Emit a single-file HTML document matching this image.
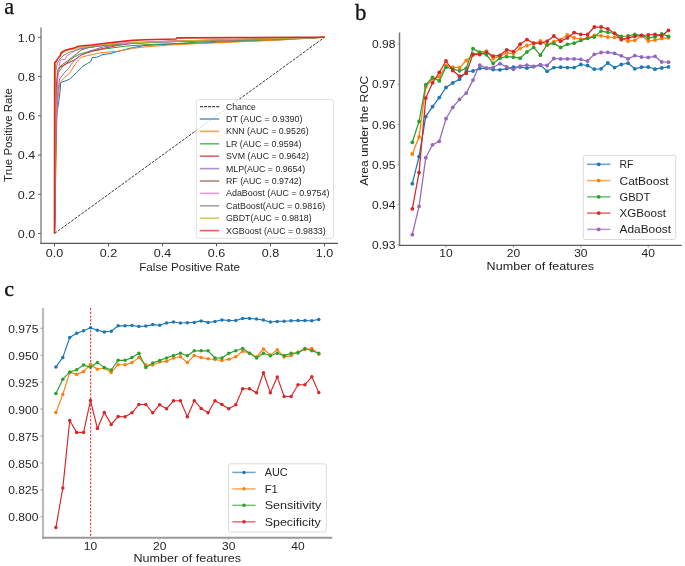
<!DOCTYPE html>
<html><head><meta charset="utf-8"><style>
html,body{margin:0;padding:0;background:#fff;}
body{width:685px;height:566px;overflow:hidden;font-family:"Liberation Sans", sans-serif;}
svg{display:block;will-change:transform;}
</style></head><body>
<svg width="685" height="566" viewBox="0 0 685 566">
<rect x="0" y="0" width="685" height="566" fill="#fff"/>
<text x="4.30" y="13.80" font-size="22.3" text-anchor="start" fill="#111" font-family='"Liberation Serif", serif' stroke="#111" stroke-width="0.25">a</text>
<text x="355.00" y="19.80" font-size="22.8" text-anchor="start" fill="#111" font-family='"Liberation Serif", serif' stroke="#111" stroke-width="0.3">b</text>
<text x="4.20" y="295.50" font-size="22.0" text-anchor="start" fill="#111" font-family='"Liberation Serif", serif' stroke="#111" stroke-width="0.4">c</text>
<line x1="54.50" y1="233.50" x2="324.50" y2="37.30" stroke="#3a3a3a" stroke-width="1.0" stroke-dasharray="2.9,1.25"/>
<polyline points="54.50,233.50 55.50,180.00 56.00,140.00 56.30,116.50 59.10,99.60 60.40,88.00 60.60,83.00 62.60,81.70 66.00,80.80 69.70,79.00 73.20,75.90 77.60,71.50 82.90,66.20 87.30,63.60 90.90,61.30 92.20,57.40 96.20,57.40 99.50,56.20 102.00,54.70 110.00,53.60 118.00,51.30 132.60,47.60 145.00,45.40 175.00,44.00 200.00,43.00 240.00,41.40 280.00,39.80 324.50,37.30" fill="none" stroke="#1f77b4" stroke-width="1.0" stroke-linejoin="round" stroke-linecap="butt" />
<polyline points="54.50,233.50 55.80,170.00 57.00,110.00 59.50,84.00 60.40,82.10 64.40,77.70 69.70,73.30 73.20,67.10 78.50,60.00 81.20,57.40 87.30,55.60 96.20,53.80 102.00,52.50 118.00,51.30 132.60,48.40 145.00,46.90 170.00,45.00 200.00,43.50 240.00,41.80 280.00,40.00 324.50,37.30" fill="none" stroke="#ff7f0e" stroke-width="1.0" stroke-linejoin="round" stroke-linecap="butt" />
<polyline points="54.50,233.50 55.60,150.00 56.50,100.00 57.40,74.60 60.00,70.00 63.00,66.00 66.90,63.00 74.00,57.00 81.50,53.50 90.00,51.50 103.40,49.10 125.30,46.20 145.00,44.70 175.00,43.60 200.00,42.00 240.00,40.50 280.00,39.20 324.50,37.30" fill="none" stroke="#2ca02c" stroke-width="1.0" stroke-linejoin="round" stroke-linecap="butt" />
<polyline points="54.50,233.50 55.50,140.00 56.50,85.00 58.10,68.80 62.00,66.00 66.90,63.70 74.20,60.00 81.50,54.90 91.70,51.30 103.40,48.40 118.00,45.40 132.60,43.20 160.00,41.50 200.00,40.50 260.00,39.00 324.50,37.30" fill="none" stroke="#d62728" stroke-width="1.0" stroke-linejoin="round" stroke-linecap="butt" />
<polyline points="54.50,233.50 55.80,150.00 57.50,95.00 59.60,79.00 62.00,76.00 64.00,73.20 66.00,71.00 68.40,68.80 71.30,64.40 74.20,60.80 81.50,54.90 88.80,51.30 103.40,46.90 125.00,44.00 150.00,42.50 190.00,41.00 240.00,39.80 290.00,38.50 324.50,37.30" fill="none" stroke="#9467bd" stroke-width="1.0" stroke-linejoin="round" stroke-linecap="butt" />
<polyline points="54.50,233.50 55.30,150.00 56.50,90.00 58.00,72.00 59.60,67.30 62.50,64.40 66.90,61.50 74.20,55.70 81.50,49.80 88.80,47.60 103.40,45.50 130.00,43.00 170.00,41.20 230.00,39.80 280.00,38.60 324.50,37.30" fill="none" stroke="#8c564b" stroke-width="1.0" stroke-linejoin="round" stroke-linecap="butt" />
<polyline points="54.50,233.50 55.50,140.00 57.00,90.00 58.50,70.00 60.30,60.00 65.40,59.30 66.50,56.00 70.00,54.00 74.20,51.30 77.00,49.50 83.00,47.60 103.40,44.70 130.00,42.50 170.00,41.00 220.00,40.00 280.00,38.80 324.50,37.30" fill="none" stroke="#e377c2" stroke-width="1.0" stroke-linejoin="round" stroke-linecap="butt" />
<polyline points="54.50,233.50 55.20,140.00 55.80,70.00 57.50,63.00 60.00,59.00 64.00,55.00 70.00,52.00 80.00,49.00 95.00,46.50 115.00,44.50 140.00,43.00 180.00,41.50 230.00,40.00 280.00,38.70 324.50,37.30" fill="none" stroke="#7f7f7f" stroke-width="1.0" stroke-linejoin="round" stroke-linecap="butt" />
<polyline points="54.50,233.50 55.00,150.00 55.60,64.00 57.50,58.50 60.00,56.00 62.00,53.50 67.00,50.50 75.00,48.50 85.00,46.50 100.00,45.00 120.00,43.50 150.00,42.00 200.00,40.30 250.00,39.00 300.00,38.00 324.50,37.30" fill="none" stroke="#bcbd22" stroke-width="1.0" stroke-linejoin="round" stroke-linecap="butt" />
<polyline points="54.50,233.50 54.60,120.00 54.70,62.70 56.40,60.90 58.60,57.40 60.40,55.60 60.80,53.40 62.60,51.60 65.30,50.30 69.70,49.00 74.10,48.10 78.50,46.30 82.90,45.70 91.80,45.00 103.40,43.50 118.00,41.90 132.60,40.40 145.00,39.70 176.00,39.00 177.00,37.90 240.00,37.60 300.00,37.30 324.50,37.30" fill="none" stroke="#e8231f" stroke-width="1.6" stroke-linejoin="round" stroke-linecap="butt" />
<line x1="41.00" y1="27.50" x2="41.00" y2="244.00" stroke="#a8a8a8" stroke-width="2.0" />
<line x1="40.40" y1="243.40" x2="338.00" y2="243.40" stroke="#5a5a5a" stroke-width="1.3" />
<line x1="38.00" y1="233.50" x2="41.00" y2="233.50" stroke="#666" stroke-width="1.0" />
<text x="35.30" y="237.80" font-size="11.28" text-anchor="end" fill="#262626" font-family='"Liberation Sans", sans-serif' textLength="17.41" lengthAdjust="spacingAndGlyphs">0.0</text>
<line x1="54.50" y1="243.40" x2="54.50" y2="246.40" stroke="#555" stroke-width="1.0" />
<text x="54.50" y="257.10" font-size="11.28" text-anchor="middle" fill="#262626" font-family='"Liberation Sans", sans-serif' textLength="17.41" lengthAdjust="spacingAndGlyphs">0.0</text>
<line x1="38.00" y1="194.26" x2="41.00" y2="194.26" stroke="#666" stroke-width="1.0" />
<text x="35.30" y="198.56" font-size="11.28" text-anchor="end" fill="#262626" font-family='"Liberation Sans", sans-serif' textLength="17.41" lengthAdjust="spacingAndGlyphs">0.2</text>
<line x1="108.50" y1="243.40" x2="108.50" y2="246.40" stroke="#555" stroke-width="1.0" />
<text x="108.50" y="257.10" font-size="11.28" text-anchor="middle" fill="#262626" font-family='"Liberation Sans", sans-serif' textLength="17.41" lengthAdjust="spacingAndGlyphs">0.2</text>
<line x1="38.00" y1="155.02" x2="41.00" y2="155.02" stroke="#666" stroke-width="1.0" />
<text x="35.30" y="159.32" font-size="11.28" text-anchor="end" fill="#262626" font-family='"Liberation Sans", sans-serif' textLength="17.41" lengthAdjust="spacingAndGlyphs">0.4</text>
<line x1="162.50" y1="243.40" x2="162.50" y2="246.40" stroke="#555" stroke-width="1.0" />
<text x="162.50" y="257.10" font-size="11.28" text-anchor="middle" fill="#262626" font-family='"Liberation Sans", sans-serif' textLength="17.41" lengthAdjust="spacingAndGlyphs">0.4</text>
<line x1="38.00" y1="115.78" x2="41.00" y2="115.78" stroke="#666" stroke-width="1.0" />
<text x="35.30" y="120.08" font-size="11.28" text-anchor="end" fill="#262626" font-family='"Liberation Sans", sans-serif' textLength="17.41" lengthAdjust="spacingAndGlyphs">0.6</text>
<line x1="216.50" y1="243.40" x2="216.50" y2="246.40" stroke="#555" stroke-width="1.0" />
<text x="216.50" y="257.10" font-size="11.28" text-anchor="middle" fill="#262626" font-family='"Liberation Sans", sans-serif' textLength="17.41" lengthAdjust="spacingAndGlyphs">0.6</text>
<line x1="38.00" y1="76.54" x2="41.00" y2="76.54" stroke="#666" stroke-width="1.0" />
<text x="35.30" y="80.84" font-size="11.28" text-anchor="end" fill="#262626" font-family='"Liberation Sans", sans-serif' textLength="17.41" lengthAdjust="spacingAndGlyphs">0.8</text>
<line x1="270.50" y1="243.40" x2="270.50" y2="246.40" stroke="#555" stroke-width="1.0" />
<text x="270.50" y="257.10" font-size="11.28" text-anchor="middle" fill="#262626" font-family='"Liberation Sans", sans-serif' textLength="17.41" lengthAdjust="spacingAndGlyphs">0.8</text>
<line x1="38.00" y1="37.30" x2="41.00" y2="37.30" stroke="#666" stroke-width="1.0" />
<text x="35.30" y="41.60" font-size="11.28" text-anchor="end" fill="#262626" font-family='"Liberation Sans", sans-serif' textLength="17.41" lengthAdjust="spacingAndGlyphs">1.0</text>
<line x1="324.50" y1="243.40" x2="324.50" y2="246.40" stroke="#555" stroke-width="1.0" />
<text x="324.50" y="257.10" font-size="11.28" text-anchor="middle" fill="#262626" font-family='"Liberation Sans", sans-serif' textLength="17.41" lengthAdjust="spacingAndGlyphs">1.0</text>
<text x="189.60" y="270.70" font-size="11.18" text-anchor="middle" fill="#262626" font-family='"Liberation Sans", sans-serif' textLength="100.84" lengthAdjust="spacingAndGlyphs">False Positive Rate</text>
<text x="0.00" y="0.00" transform="translate(12.1,135) rotate(-90)" font-size="10.85" text-anchor="middle" fill="#262626" font-family='"Liberation Sans", sans-serif' textLength="93.80" lengthAdjust="spacingAndGlyphs">True Positive Rate</text>
<rect x="196.3" y="99.6" width="137.2" height="138.7" rx="2.5" ry="2.5" fill="#fff" fill-opacity="0.8" stroke="#e0e0e0" stroke-width="1"/>
<line x1="200.00" y1="106.60" x2="219.20" y2="106.60" stroke="#444" stroke-width="1.2" stroke-dasharray="3.0,1.05"/>
<text x="226.00" y="109.60" font-size="8.24" text-anchor="start" fill="#262626" font-family='"Liberation Sans", sans-serif' textLength="29.95" lengthAdjust="spacingAndGlyphs">Chance</text>
<line x1="199.80" y1="119.00" x2="219.20" y2="119.00" stroke="#1f77b4" stroke-width="1.6" stroke-opacity="0.72"/>
<text x="226.00" y="122.00" font-size="8.24" text-anchor="start" fill="#262626" font-family='"Liberation Sans", sans-serif' textLength="76.53" lengthAdjust="spacingAndGlyphs">DT (AUC = 0.9390)</text>
<line x1="199.80" y1="131.40" x2="219.20" y2="131.40" stroke="#ff7f0e" stroke-width="1.6" stroke-opacity="0.72"/>
<text x="226.00" y="134.40" font-size="8.24" text-anchor="start" fill="#262626" font-family='"Liberation Sans", sans-serif' textLength="82.70" lengthAdjust="spacingAndGlyphs">KNN (AUC = 0.9526)</text>
<line x1="199.80" y1="143.80" x2="219.20" y2="143.80" stroke="#2ca02c" stroke-width="1.6" stroke-opacity="0.72"/>
<text x="226.00" y="146.80" font-size="8.24" text-anchor="start" fill="#262626" font-family='"Liberation Sans", sans-serif' textLength="75.50" lengthAdjust="spacingAndGlyphs">LR (AUC = 0.9594)</text>
<line x1="199.80" y1="156.20" x2="219.20" y2="156.20" stroke="#d62728" stroke-width="1.6" stroke-opacity="0.72"/>
<text x="226.00" y="159.20" font-size="8.24" text-anchor="start" fill="#262626" font-family='"Liberation Sans", sans-serif' textLength="82.94" lengthAdjust="spacingAndGlyphs">SVM (AUC = 0.9642)</text>
<line x1="199.80" y1="168.60" x2="219.20" y2="168.60" stroke="#9467bd" stroke-width="1.6" stroke-opacity="0.72"/>
<text x="226.00" y="171.60" font-size="8.24" text-anchor="start" fill="#262626" font-family='"Liberation Sans", sans-serif' textLength="79.12" lengthAdjust="spacingAndGlyphs">MLP(AUC = 0.9654)</text>
<line x1="199.80" y1="181.00" x2="219.20" y2="181.00" stroke="#8c564b" stroke-width="1.6" stroke-opacity="0.72"/>
<text x="226.00" y="184.00" font-size="8.24" text-anchor="start" fill="#262626" font-family='"Liberation Sans", sans-serif' textLength="75.64" lengthAdjust="spacingAndGlyphs">RF (AUC = 0.9742)</text>
<line x1="199.80" y1="193.40" x2="219.20" y2="193.40" stroke="#e377c2" stroke-width="1.6" stroke-opacity="0.72"/>
<text x="226.00" y="196.40" font-size="8.24" text-anchor="start" fill="#262626" font-family='"Liberation Sans", sans-serif' textLength="103.38" lengthAdjust="spacingAndGlyphs">AdaBoost (AUC = 0.9754)</text>
<line x1="199.80" y1="205.80" x2="219.20" y2="205.80" stroke="#7f7f7f" stroke-width="1.6" stroke-opacity="0.72"/>
<text x="226.00" y="208.80" font-size="8.24" text-anchor="start" fill="#262626" font-family='"Liberation Sans", sans-serif' textLength="99.15" lengthAdjust="spacingAndGlyphs">CatBoost(AUC = 0.9816)</text>
<line x1="199.80" y1="218.20" x2="219.20" y2="218.20" stroke="#bcbd22" stroke-width="1.6" stroke-opacity="0.72"/>
<text x="226.00" y="221.20" font-size="8.24" text-anchor="start" fill="#262626" font-family='"Liberation Sans", sans-serif' textLength="85.67" lengthAdjust="spacingAndGlyphs">GBDT(AUC = 0.9818)</text>
<line x1="199.80" y1="230.60" x2="219.20" y2="230.60" stroke="#e8231f" stroke-width="1.6" stroke-opacity="0.72"/>
<text x="226.00" y="233.60" font-size="8.24" text-anchor="start" fill="#262626" font-family='"Liberation Sans", sans-serif' textLength="99.74" lengthAdjust="spacingAndGlyphs">XGBoost (AUC = 0.9833)</text>
<polyline points="412.30,183.70 419.04,156.60 425.78,116.60 432.53,106.70 439.27,97.60 446.01,87.50 452.75,82.90 459.49,79.30 466.24,71.70 472.98,71.00 479.72,68.40 486.46,68.30 493.20,69.60 499.95,69.80 506.69,68.60 513.43,67.10 520.17,67.10 526.91,68.10 533.66,66.70 540.40,65.10 547.14,71.30 553.88,67.60 560.62,67.20 567.37,67.60 574.11,67.60 580.85,64.50 587.59,65.50 594.33,69.20 601.08,68.80 607.82,63.00 614.56,67.60 621.30,64.50 628.04,63.20 634.79,68.80 641.53,67.20 648.27,67.00 655.01,69.20 661.75,67.90 668.50,66.90" fill="none" stroke="#1f77b4" stroke-width="1.25" stroke-linejoin="round" stroke-linecap="round" />
<circle cx="412.30" cy="183.70" r="1.9" fill="#1f77b4"/>
<circle cx="419.04" cy="156.60" r="1.9" fill="#1f77b4"/>
<circle cx="425.78" cy="116.60" r="1.9" fill="#1f77b4"/>
<circle cx="432.53" cy="106.70" r="1.9" fill="#1f77b4"/>
<circle cx="439.27" cy="97.60" r="1.9" fill="#1f77b4"/>
<circle cx="446.01" cy="87.50" r="1.9" fill="#1f77b4"/>
<circle cx="452.75" cy="82.90" r="1.9" fill="#1f77b4"/>
<circle cx="459.49" cy="79.30" r="1.9" fill="#1f77b4"/>
<circle cx="466.24" cy="71.70" r="1.9" fill="#1f77b4"/>
<circle cx="472.98" cy="71.00" r="1.9" fill="#1f77b4"/>
<circle cx="479.72" cy="68.40" r="1.9" fill="#1f77b4"/>
<circle cx="486.46" cy="68.30" r="1.9" fill="#1f77b4"/>
<circle cx="493.20" cy="69.60" r="1.9" fill="#1f77b4"/>
<circle cx="499.95" cy="69.80" r="1.9" fill="#1f77b4"/>
<circle cx="506.69" cy="68.60" r="1.9" fill="#1f77b4"/>
<circle cx="513.43" cy="67.10" r="1.9" fill="#1f77b4"/>
<circle cx="520.17" cy="67.10" r="1.9" fill="#1f77b4"/>
<circle cx="526.91" cy="68.10" r="1.9" fill="#1f77b4"/>
<circle cx="533.66" cy="66.70" r="1.9" fill="#1f77b4"/>
<circle cx="540.40" cy="65.10" r="1.9" fill="#1f77b4"/>
<circle cx="547.14" cy="71.30" r="1.9" fill="#1f77b4"/>
<circle cx="553.88" cy="67.60" r="1.9" fill="#1f77b4"/>
<circle cx="560.62" cy="67.20" r="1.9" fill="#1f77b4"/>
<circle cx="567.37" cy="67.60" r="1.9" fill="#1f77b4"/>
<circle cx="574.11" cy="67.60" r="1.9" fill="#1f77b4"/>
<circle cx="580.85" cy="64.50" r="1.9" fill="#1f77b4"/>
<circle cx="587.59" cy="65.50" r="1.9" fill="#1f77b4"/>
<circle cx="594.33" cy="69.20" r="1.9" fill="#1f77b4"/>
<circle cx="601.08" cy="68.80" r="1.9" fill="#1f77b4"/>
<circle cx="607.82" cy="63.00" r="1.9" fill="#1f77b4"/>
<circle cx="614.56" cy="67.60" r="1.9" fill="#1f77b4"/>
<circle cx="621.30" cy="64.50" r="1.9" fill="#1f77b4"/>
<circle cx="628.04" cy="63.20" r="1.9" fill="#1f77b4"/>
<circle cx="634.79" cy="68.80" r="1.9" fill="#1f77b4"/>
<circle cx="641.53" cy="67.20" r="1.9" fill="#1f77b4"/>
<circle cx="648.27" cy="67.00" r="1.9" fill="#1f77b4"/>
<circle cx="655.01" cy="69.20" r="1.9" fill="#1f77b4"/>
<circle cx="661.75" cy="67.90" r="1.9" fill="#1f77b4"/>
<circle cx="668.50" cy="66.90" r="1.9" fill="#1f77b4"/>
<polyline points="412.30,154.00 419.04,136.90 425.78,86.90 432.53,78.80 439.27,76.90 446.01,65.70 452.75,67.20 459.49,67.70 466.24,60.50 472.98,55.10 479.72,52.10 486.46,51.10 493.20,58.70 499.95,56.00 506.69,52.90 513.43,53.50 520.17,48.50 526.91,45.50 533.66,43.80 540.40,41.00 547.14,45.30 553.88,41.60 560.62,39.70 567.37,34.80 574.11,37.90 580.85,39.10 587.59,37.90 594.33,35.40 601.08,35.80 607.82,37.00 614.56,37.30 621.30,38.00 628.04,41.20 634.79,40.40 641.53,35.80 648.27,41.00 655.01,40.10 661.75,38.40 668.50,37.80" fill="none" stroke="#ff7f0e" stroke-width="1.25" stroke-linejoin="round" stroke-linecap="round" />
<circle cx="412.30" cy="154.00" r="1.9" fill="#ff7f0e"/>
<circle cx="419.04" cy="136.90" r="1.9" fill="#ff7f0e"/>
<circle cx="425.78" cy="86.90" r="1.9" fill="#ff7f0e"/>
<circle cx="432.53" cy="78.80" r="1.9" fill="#ff7f0e"/>
<circle cx="439.27" cy="76.90" r="1.9" fill="#ff7f0e"/>
<circle cx="446.01" cy="65.70" r="1.9" fill="#ff7f0e"/>
<circle cx="452.75" cy="67.20" r="1.9" fill="#ff7f0e"/>
<circle cx="459.49" cy="67.70" r="1.9" fill="#ff7f0e"/>
<circle cx="466.24" cy="60.50" r="1.9" fill="#ff7f0e"/>
<circle cx="472.98" cy="55.10" r="1.9" fill="#ff7f0e"/>
<circle cx="479.72" cy="52.10" r="1.9" fill="#ff7f0e"/>
<circle cx="486.46" cy="51.10" r="1.9" fill="#ff7f0e"/>
<circle cx="493.20" cy="58.70" r="1.9" fill="#ff7f0e"/>
<circle cx="499.95" cy="56.00" r="1.9" fill="#ff7f0e"/>
<circle cx="506.69" cy="52.90" r="1.9" fill="#ff7f0e"/>
<circle cx="513.43" cy="53.50" r="1.9" fill="#ff7f0e"/>
<circle cx="520.17" cy="48.50" r="1.9" fill="#ff7f0e"/>
<circle cx="526.91" cy="45.50" r="1.9" fill="#ff7f0e"/>
<circle cx="533.66" cy="43.80" r="1.9" fill="#ff7f0e"/>
<circle cx="540.40" cy="41.00" r="1.9" fill="#ff7f0e"/>
<circle cx="547.14" cy="45.30" r="1.9" fill="#ff7f0e"/>
<circle cx="553.88" cy="41.60" r="1.9" fill="#ff7f0e"/>
<circle cx="560.62" cy="39.70" r="1.9" fill="#ff7f0e"/>
<circle cx="567.37" cy="34.80" r="1.9" fill="#ff7f0e"/>
<circle cx="574.11" cy="37.90" r="1.9" fill="#ff7f0e"/>
<circle cx="580.85" cy="39.10" r="1.9" fill="#ff7f0e"/>
<circle cx="587.59" cy="37.90" r="1.9" fill="#ff7f0e"/>
<circle cx="594.33" cy="35.40" r="1.9" fill="#ff7f0e"/>
<circle cx="601.08" cy="35.80" r="1.9" fill="#ff7f0e"/>
<circle cx="607.82" cy="37.00" r="1.9" fill="#ff7f0e"/>
<circle cx="614.56" cy="37.30" r="1.9" fill="#ff7f0e"/>
<circle cx="621.30" cy="38.00" r="1.9" fill="#ff7f0e"/>
<circle cx="628.04" cy="41.20" r="1.9" fill="#ff7f0e"/>
<circle cx="634.79" cy="40.40" r="1.9" fill="#ff7f0e"/>
<circle cx="641.53" cy="35.80" r="1.9" fill="#ff7f0e"/>
<circle cx="648.27" cy="41.00" r="1.9" fill="#ff7f0e"/>
<circle cx="655.01" cy="40.10" r="1.9" fill="#ff7f0e"/>
<circle cx="661.75" cy="38.40" r="1.9" fill="#ff7f0e"/>
<circle cx="668.50" cy="37.80" r="1.9" fill="#ff7f0e"/>
<polyline points="412.30,142.30 419.04,121.50 425.78,84.70 432.53,77.50 439.27,80.90 446.01,67.20 452.75,69.00 459.49,70.80 466.24,68.30 472.98,48.60 479.72,52.40 486.46,54.80 493.20,63.30 499.95,58.20 506.69,56.60 513.43,57.20 520.17,58.20 526.91,52.00 533.66,47.40 540.40,55.20 547.14,44.70 553.88,43.40 560.62,47.40 567.37,44.30 574.11,43.20 580.85,40.40 587.59,38.30 594.33,37.00 601.08,31.10 607.82,32.30 614.56,33.50 621.30,36.30 628.04,36.00 634.79,34.40 641.53,35.40 648.27,37.90 655.01,36.90 661.75,33.90 668.50,36.40" fill="none" stroke="#2ca02c" stroke-width="1.25" stroke-linejoin="round" stroke-linecap="round" />
<circle cx="412.30" cy="142.30" r="1.9" fill="#2ca02c"/>
<circle cx="419.04" cy="121.50" r="1.9" fill="#2ca02c"/>
<circle cx="425.78" cy="84.70" r="1.9" fill="#2ca02c"/>
<circle cx="432.53" cy="77.50" r="1.9" fill="#2ca02c"/>
<circle cx="439.27" cy="80.90" r="1.9" fill="#2ca02c"/>
<circle cx="446.01" cy="67.20" r="1.9" fill="#2ca02c"/>
<circle cx="452.75" cy="69.00" r="1.9" fill="#2ca02c"/>
<circle cx="459.49" cy="70.80" r="1.9" fill="#2ca02c"/>
<circle cx="466.24" cy="68.30" r="1.9" fill="#2ca02c"/>
<circle cx="472.98" cy="48.60" r="1.9" fill="#2ca02c"/>
<circle cx="479.72" cy="52.40" r="1.9" fill="#2ca02c"/>
<circle cx="486.46" cy="54.80" r="1.9" fill="#2ca02c"/>
<circle cx="493.20" cy="63.30" r="1.9" fill="#2ca02c"/>
<circle cx="499.95" cy="58.20" r="1.9" fill="#2ca02c"/>
<circle cx="506.69" cy="56.60" r="1.9" fill="#2ca02c"/>
<circle cx="513.43" cy="57.20" r="1.9" fill="#2ca02c"/>
<circle cx="520.17" cy="58.20" r="1.9" fill="#2ca02c"/>
<circle cx="526.91" cy="52.00" r="1.9" fill="#2ca02c"/>
<circle cx="533.66" cy="47.40" r="1.9" fill="#2ca02c"/>
<circle cx="540.40" cy="55.20" r="1.9" fill="#2ca02c"/>
<circle cx="547.14" cy="44.70" r="1.9" fill="#2ca02c"/>
<circle cx="553.88" cy="43.40" r="1.9" fill="#2ca02c"/>
<circle cx="560.62" cy="47.40" r="1.9" fill="#2ca02c"/>
<circle cx="567.37" cy="44.30" r="1.9" fill="#2ca02c"/>
<circle cx="574.11" cy="43.20" r="1.9" fill="#2ca02c"/>
<circle cx="580.85" cy="40.40" r="1.9" fill="#2ca02c"/>
<circle cx="587.59" cy="38.30" r="1.9" fill="#2ca02c"/>
<circle cx="594.33" cy="37.00" r="1.9" fill="#2ca02c"/>
<circle cx="601.08" cy="31.10" r="1.9" fill="#2ca02c"/>
<circle cx="607.82" cy="32.30" r="1.9" fill="#2ca02c"/>
<circle cx="614.56" cy="33.50" r="1.9" fill="#2ca02c"/>
<circle cx="621.30" cy="36.30" r="1.9" fill="#2ca02c"/>
<circle cx="628.04" cy="36.00" r="1.9" fill="#2ca02c"/>
<circle cx="634.79" cy="34.40" r="1.9" fill="#2ca02c"/>
<circle cx="641.53" cy="35.40" r="1.9" fill="#2ca02c"/>
<circle cx="648.27" cy="37.90" r="1.9" fill="#2ca02c"/>
<circle cx="655.01" cy="36.90" r="1.9" fill="#2ca02c"/>
<circle cx="661.75" cy="33.90" r="1.9" fill="#2ca02c"/>
<circle cx="668.50" cy="36.40" r="1.9" fill="#2ca02c"/>
<polyline points="412.30,208.80 419.04,172.60 425.78,98.10 432.53,82.80 439.27,72.50 446.01,61.00 452.75,70.50 459.49,76.20 466.24,73.30 472.98,54.20 479.72,54.60 486.46,52.20 493.20,56.10 499.95,55.30 506.69,49.80 513.43,51.60 520.17,44.20 526.91,39.60 533.66,43.10 540.40,43.20 547.14,41.20 553.88,36.00 560.62,41.20 567.37,37.90 574.11,32.60 580.85,34.40 587.59,34.50 594.33,27.00 601.08,27.00 607.82,28.90 614.56,33.30 621.30,39.70 628.04,37.90 634.79,36.30 641.53,35.40 648.27,35.00 655.01,34.40 661.75,35.90 668.50,30.30" fill="none" stroke="#d62728" stroke-width="1.25" stroke-linejoin="round" stroke-linecap="round" />
<circle cx="412.30" cy="208.80" r="1.9" fill="#d62728"/>
<circle cx="419.04" cy="172.60" r="1.9" fill="#d62728"/>
<circle cx="425.78" cy="98.10" r="1.9" fill="#d62728"/>
<circle cx="432.53" cy="82.80" r="1.9" fill="#d62728"/>
<circle cx="439.27" cy="72.50" r="1.9" fill="#d62728"/>
<circle cx="446.01" cy="61.00" r="1.9" fill="#d62728"/>
<circle cx="452.75" cy="70.50" r="1.9" fill="#d62728"/>
<circle cx="459.49" cy="76.20" r="1.9" fill="#d62728"/>
<circle cx="466.24" cy="73.30" r="1.9" fill="#d62728"/>
<circle cx="472.98" cy="54.20" r="1.9" fill="#d62728"/>
<circle cx="479.72" cy="54.60" r="1.9" fill="#d62728"/>
<circle cx="486.46" cy="52.20" r="1.9" fill="#d62728"/>
<circle cx="493.20" cy="56.10" r="1.9" fill="#d62728"/>
<circle cx="499.95" cy="55.30" r="1.9" fill="#d62728"/>
<circle cx="506.69" cy="49.80" r="1.9" fill="#d62728"/>
<circle cx="513.43" cy="51.60" r="1.9" fill="#d62728"/>
<circle cx="520.17" cy="44.20" r="1.9" fill="#d62728"/>
<circle cx="526.91" cy="39.60" r="1.9" fill="#d62728"/>
<circle cx="533.66" cy="43.10" r="1.9" fill="#d62728"/>
<circle cx="540.40" cy="43.20" r="1.9" fill="#d62728"/>
<circle cx="547.14" cy="41.20" r="1.9" fill="#d62728"/>
<circle cx="553.88" cy="36.00" r="1.9" fill="#d62728"/>
<circle cx="560.62" cy="41.20" r="1.9" fill="#d62728"/>
<circle cx="567.37" cy="37.90" r="1.9" fill="#d62728"/>
<circle cx="574.11" cy="32.60" r="1.9" fill="#d62728"/>
<circle cx="580.85" cy="34.40" r="1.9" fill="#d62728"/>
<circle cx="587.59" cy="34.50" r="1.9" fill="#d62728"/>
<circle cx="594.33" cy="27.00" r="1.9" fill="#d62728"/>
<circle cx="601.08" cy="27.00" r="1.9" fill="#d62728"/>
<circle cx="607.82" cy="28.90" r="1.9" fill="#d62728"/>
<circle cx="614.56" cy="33.30" r="1.9" fill="#d62728"/>
<circle cx="621.30" cy="39.70" r="1.9" fill="#d62728"/>
<circle cx="628.04" cy="37.90" r="1.9" fill="#d62728"/>
<circle cx="634.79" cy="36.30" r="1.9" fill="#d62728"/>
<circle cx="641.53" cy="35.40" r="1.9" fill="#d62728"/>
<circle cx="648.27" cy="35.00" r="1.9" fill="#d62728"/>
<circle cx="655.01" cy="34.40" r="1.9" fill="#d62728"/>
<circle cx="661.75" cy="35.90" r="1.9" fill="#d62728"/>
<circle cx="668.50" cy="30.30" r="1.9" fill="#d62728"/>
<polyline points="412.30,234.70 419.04,206.40 425.78,157.70 432.53,144.80 439.27,141.30 446.01,118.70 452.75,107.30 459.49,99.40 466.24,93.10 472.98,80.10 479.72,65.10 486.46,68.10 493.20,67.30 499.95,63.70 506.69,66.90 513.43,69.30 520.17,66.20 526.91,65.20 533.66,66.30 540.40,64.70 547.14,65.50 553.88,58.50 560.62,58.90 567.37,58.90 574.11,58.90 580.85,59.30 587.59,61.00 594.33,54.30 601.08,52.50 607.82,52.30 614.56,53.30 621.30,55.80 628.04,58.90 634.79,55.60 641.53,57.00 648.27,57.40 655.01,56.30 661.75,62.00 668.50,62.20" fill="none" stroke="#9467bd" stroke-width="1.25" stroke-linejoin="round" stroke-linecap="round" />
<circle cx="412.30" cy="234.70" r="1.9" fill="#9467bd"/>
<circle cx="419.04" cy="206.40" r="1.9" fill="#9467bd"/>
<circle cx="425.78" cy="157.70" r="1.9" fill="#9467bd"/>
<circle cx="432.53" cy="144.80" r="1.9" fill="#9467bd"/>
<circle cx="439.27" cy="141.30" r="1.9" fill="#9467bd"/>
<circle cx="446.01" cy="118.70" r="1.9" fill="#9467bd"/>
<circle cx="452.75" cy="107.30" r="1.9" fill="#9467bd"/>
<circle cx="459.49" cy="99.40" r="1.9" fill="#9467bd"/>
<circle cx="466.24" cy="93.10" r="1.9" fill="#9467bd"/>
<circle cx="472.98" cy="80.10" r="1.9" fill="#9467bd"/>
<circle cx="479.72" cy="65.10" r="1.9" fill="#9467bd"/>
<circle cx="486.46" cy="68.10" r="1.9" fill="#9467bd"/>
<circle cx="493.20" cy="67.30" r="1.9" fill="#9467bd"/>
<circle cx="499.95" cy="63.70" r="1.9" fill="#9467bd"/>
<circle cx="506.69" cy="66.90" r="1.9" fill="#9467bd"/>
<circle cx="513.43" cy="69.30" r="1.9" fill="#9467bd"/>
<circle cx="520.17" cy="66.20" r="1.9" fill="#9467bd"/>
<circle cx="526.91" cy="65.20" r="1.9" fill="#9467bd"/>
<circle cx="533.66" cy="66.30" r="1.9" fill="#9467bd"/>
<circle cx="540.40" cy="64.70" r="1.9" fill="#9467bd"/>
<circle cx="547.14" cy="65.50" r="1.9" fill="#9467bd"/>
<circle cx="553.88" cy="58.50" r="1.9" fill="#9467bd"/>
<circle cx="560.62" cy="58.90" r="1.9" fill="#9467bd"/>
<circle cx="567.37" cy="58.90" r="1.9" fill="#9467bd"/>
<circle cx="574.11" cy="58.90" r="1.9" fill="#9467bd"/>
<circle cx="580.85" cy="59.30" r="1.9" fill="#9467bd"/>
<circle cx="587.59" cy="61.00" r="1.9" fill="#9467bd"/>
<circle cx="594.33" cy="54.30" r="1.9" fill="#9467bd"/>
<circle cx="601.08" cy="52.50" r="1.9" fill="#9467bd"/>
<circle cx="607.82" cy="52.30" r="1.9" fill="#9467bd"/>
<circle cx="614.56" cy="53.30" r="1.9" fill="#9467bd"/>
<circle cx="621.30" cy="55.80" r="1.9" fill="#9467bd"/>
<circle cx="628.04" cy="58.90" r="1.9" fill="#9467bd"/>
<circle cx="634.79" cy="55.60" r="1.9" fill="#9467bd"/>
<circle cx="641.53" cy="57.00" r="1.9" fill="#9467bd"/>
<circle cx="648.27" cy="57.40" r="1.9" fill="#9467bd"/>
<circle cx="655.01" cy="56.30" r="1.9" fill="#9467bd"/>
<circle cx="661.75" cy="62.00" r="1.9" fill="#9467bd"/>
<circle cx="668.50" cy="62.20" r="1.9" fill="#9467bd"/>
<line x1="399.50" y1="32.50" x2="399.50" y2="246.00" stroke="#7a7a7a" stroke-width="1.5" />
<line x1="398.90" y1="245.40" x2="681.80" y2="245.40" stroke="#606060" stroke-width="1.3" />
<line x1="397.50" y1="244.60" x2="399.50" y2="244.60" stroke="#888" stroke-width="0.8" />
<text x="395.40" y="248.80" font-size="10.81" text-anchor="end" fill="#1e1e1e" font-family='"Liberation Sans", sans-serif' textLength="23.38" lengthAdjust="spacingAndGlyphs">0.93</text>
<line x1="397.50" y1="204.50" x2="399.50" y2="204.50" stroke="#888" stroke-width="0.8" />
<text x="395.40" y="208.70" font-size="10.81" text-anchor="end" fill="#1e1e1e" font-family='"Liberation Sans", sans-serif' textLength="23.38" lengthAdjust="spacingAndGlyphs">0.94</text>
<line x1="397.50" y1="164.40" x2="399.50" y2="164.40" stroke="#888" stroke-width="0.8" />
<text x="395.40" y="168.60" font-size="10.81" text-anchor="end" fill="#1e1e1e" font-family='"Liberation Sans", sans-serif' textLength="23.38" lengthAdjust="spacingAndGlyphs">0.95</text>
<line x1="397.50" y1="124.30" x2="399.50" y2="124.30" stroke="#888" stroke-width="0.8" />
<text x="395.40" y="128.50" font-size="10.81" text-anchor="end" fill="#1e1e1e" font-family='"Liberation Sans", sans-serif' textLength="23.38" lengthAdjust="spacingAndGlyphs">0.96</text>
<line x1="397.50" y1="84.20" x2="399.50" y2="84.20" stroke="#888" stroke-width="0.8" />
<text x="395.40" y="88.40" font-size="10.81" text-anchor="end" fill="#1e1e1e" font-family='"Liberation Sans", sans-serif' textLength="23.38" lengthAdjust="spacingAndGlyphs">0.97</text>
<line x1="397.50" y1="44.10" x2="399.50" y2="44.10" stroke="#888" stroke-width="0.8" />
<text x="395.40" y="48.30" font-size="10.81" text-anchor="end" fill="#1e1e1e" font-family='"Liberation Sans", sans-serif' textLength="23.38" lengthAdjust="spacingAndGlyphs">0.98</text>
<line x1="446.01" y1="245.40" x2="446.01" y2="247.40" stroke="#666" stroke-width="0.8" />
<text x="446.01" y="257.00" font-size="10.81" text-anchor="middle" fill="#1e1e1e" font-family='"Liberation Sans", sans-serif' textLength="13.36" lengthAdjust="spacingAndGlyphs">10</text>
<line x1="513.43" y1="245.40" x2="513.43" y2="247.40" stroke="#666" stroke-width="0.8" />
<text x="513.43" y="257.00" font-size="10.81" text-anchor="middle" fill="#1e1e1e" font-family='"Liberation Sans", sans-serif' textLength="13.36" lengthAdjust="spacingAndGlyphs">20</text>
<line x1="580.85" y1="245.40" x2="580.85" y2="247.40" stroke="#666" stroke-width="0.8" />
<text x="580.85" y="257.00" font-size="10.81" text-anchor="middle" fill="#1e1e1e" font-family='"Liberation Sans", sans-serif' textLength="13.36" lengthAdjust="spacingAndGlyphs">30</text>
<line x1="648.27" y1="245.40" x2="648.27" y2="247.40" stroke="#666" stroke-width="0.8" />
<text x="648.27" y="257.00" font-size="10.81" text-anchor="middle" fill="#1e1e1e" font-family='"Liberation Sans", sans-serif' textLength="13.36" lengthAdjust="spacingAndGlyphs">40</text>
<text x="540.40" y="269.80" font-size="11.36" text-anchor="middle" fill="#1e1e1e" font-family='"Liberation Sans", sans-serif' textLength="107.52" lengthAdjust="spacingAndGlyphs">Number of features</text>
<text x="0.00" y="0.00" transform="translate(367.8,130.7) rotate(-90)" font-size="11.33" text-anchor="middle" fill="#1e1e1e" font-family='"Liberation Sans", sans-serif' textLength="110.06" lengthAdjust="spacingAndGlyphs">Area under the ROC</text>
<rect x="583.3" y="155.3" width="92.5" height="84.2" rx="2" ry="2" fill="#fff" fill-opacity="0.8" stroke="#d6d6d6" stroke-width="0.9"/>
<line x1="587.10" y1="164.30" x2="610.40" y2="164.30" stroke="#1f77b4" stroke-width="1.6" stroke-opacity="0.65"/>
<circle cx="598.70" cy="164.30" r="1.9" fill="#1f77b4"/>
<text x="619.50" y="168.30" font-size="11.20" text-anchor="start" fill="#1e1e1e" font-family='"Liberation Sans", sans-serif' textLength="13.81" lengthAdjust="spacingAndGlyphs">RF</text>
<line x1="587.10" y1="180.57" x2="610.40" y2="180.57" stroke="#ff7f0e" stroke-width="1.6" stroke-opacity="0.65"/>
<circle cx="598.70" cy="180.57" r="1.9" fill="#ff7f0e"/>
<text x="619.50" y="184.57" font-size="11.20" text-anchor="start" fill="#1e1e1e" font-family='"Liberation Sans", sans-serif' textLength="49.20" lengthAdjust="spacingAndGlyphs">CatBoost</text>
<line x1="587.10" y1="196.84" x2="610.40" y2="196.84" stroke="#2ca02c" stroke-width="1.6" stroke-opacity="0.65"/>
<circle cx="598.70" cy="196.84" r="1.9" fill="#2ca02c"/>
<text x="619.50" y="200.84" font-size="11.20" text-anchor="start" fill="#1e1e1e" font-family='"Liberation Sans", sans-serif' textLength="30.89" lengthAdjust="spacingAndGlyphs">GBDT</text>
<line x1="587.10" y1="213.11" x2="610.40" y2="213.11" stroke="#d62728" stroke-width="1.6" stroke-opacity="0.65"/>
<circle cx="598.70" cy="213.11" r="1.9" fill="#d62728"/>
<text x="619.50" y="217.11" font-size="11.20" text-anchor="start" fill="#1e1e1e" font-family='"Liberation Sans", sans-serif' textLength="46.55" lengthAdjust="spacingAndGlyphs">XGBoost</text>
<line x1="587.10" y1="229.38" x2="610.40" y2="229.38" stroke="#9467bd" stroke-width="1.6" stroke-opacity="0.65"/>
<circle cx="598.70" cy="229.38" r="1.9" fill="#9467bd"/>
<text x="619.50" y="233.38" font-size="11.20" text-anchor="start" fill="#1e1e1e" font-family='"Liberation Sans", sans-serif' textLength="51.49" lengthAdjust="spacingAndGlyphs">AdaBoost</text>
<line x1="90.64" y1="308.10" x2="90.64" y2="537.80" stroke="#d62728" stroke-width="1.2" stroke-dasharray="2.2,1.5" stroke-opacity="0.85"/>
<polyline points="55.90,367.10 62.82,357.40 69.73,337.50 76.65,333.20 83.57,330.80 90.48,327.70 97.40,330.20 104.32,331.90 111.24,331.20 118.15,325.80 125.07,325.80 131.99,325.50 138.90,326.40 145.82,326.10 152.74,324.60 159.66,325.20 166.57,323.00 173.49,322.00 180.41,323.00 187.32,322.70 194.24,322.40 201.16,320.90 208.07,322.40 214.99,321.50 221.91,319.90 228.82,320.50 235.74,320.50 242.66,318.40 249.58,318.40 256.49,319.00 263.41,320.10 270.33,322.00 277.24,321.40 284.16,321.20 291.08,320.80 298.00,320.60 304.91,320.60 311.83,320.80 318.75,319.40" fill="none" stroke="#1f77b4" stroke-width="1.15" stroke-linejoin="round" stroke-linecap="round" />
<circle cx="55.90" cy="367.10" r="1.75" fill="#1f77b4"/>
<circle cx="62.82" cy="357.40" r="1.75" fill="#1f77b4"/>
<circle cx="69.73" cy="337.50" r="1.75" fill="#1f77b4"/>
<circle cx="76.65" cy="333.20" r="1.75" fill="#1f77b4"/>
<circle cx="83.57" cy="330.80" r="1.75" fill="#1f77b4"/>
<circle cx="90.48" cy="327.70" r="1.75" fill="#1f77b4"/>
<circle cx="97.40" cy="330.20" r="1.75" fill="#1f77b4"/>
<circle cx="104.32" cy="331.90" r="1.75" fill="#1f77b4"/>
<circle cx="111.24" cy="331.20" r="1.75" fill="#1f77b4"/>
<circle cx="118.15" cy="325.80" r="1.75" fill="#1f77b4"/>
<circle cx="125.07" cy="325.80" r="1.75" fill="#1f77b4"/>
<circle cx="131.99" cy="325.50" r="1.75" fill="#1f77b4"/>
<circle cx="138.90" cy="326.40" r="1.75" fill="#1f77b4"/>
<circle cx="145.82" cy="326.10" r="1.75" fill="#1f77b4"/>
<circle cx="152.74" cy="324.60" r="1.75" fill="#1f77b4"/>
<circle cx="159.66" cy="325.20" r="1.75" fill="#1f77b4"/>
<circle cx="166.57" cy="323.00" r="1.75" fill="#1f77b4"/>
<circle cx="173.49" cy="322.00" r="1.75" fill="#1f77b4"/>
<circle cx="180.41" cy="323.00" r="1.75" fill="#1f77b4"/>
<circle cx="187.32" cy="322.70" r="1.75" fill="#1f77b4"/>
<circle cx="194.24" cy="322.40" r="1.75" fill="#1f77b4"/>
<circle cx="201.16" cy="320.90" r="1.75" fill="#1f77b4"/>
<circle cx="208.07" cy="322.40" r="1.75" fill="#1f77b4"/>
<circle cx="214.99" cy="321.50" r="1.75" fill="#1f77b4"/>
<circle cx="221.91" cy="319.90" r="1.75" fill="#1f77b4"/>
<circle cx="228.82" cy="320.50" r="1.75" fill="#1f77b4"/>
<circle cx="235.74" cy="320.50" r="1.75" fill="#1f77b4"/>
<circle cx="242.66" cy="318.40" r="1.75" fill="#1f77b4"/>
<circle cx="249.58" cy="318.40" r="1.75" fill="#1f77b4"/>
<circle cx="256.49" cy="319.00" r="1.75" fill="#1f77b4"/>
<circle cx="263.41" cy="320.10" r="1.75" fill="#1f77b4"/>
<circle cx="270.33" cy="322.00" r="1.75" fill="#1f77b4"/>
<circle cx="277.24" cy="321.40" r="1.75" fill="#1f77b4"/>
<circle cx="284.16" cy="321.20" r="1.75" fill="#1f77b4"/>
<circle cx="291.08" cy="320.80" r="1.75" fill="#1f77b4"/>
<circle cx="298.00" cy="320.60" r="1.75" fill="#1f77b4"/>
<circle cx="304.91" cy="320.60" r="1.75" fill="#1f77b4"/>
<circle cx="311.83" cy="320.80" r="1.75" fill="#1f77b4"/>
<circle cx="318.75" cy="319.40" r="1.75" fill="#1f77b4"/>
<polyline points="55.90,412.50 62.82,394.40 69.73,372.40 76.65,374.40 83.57,371.60 90.48,364.20 97.40,369.30 104.32,368.00 111.24,372.40 118.15,364.70 125.07,364.70 131.99,362.60 138.90,357.60 145.82,365.00 152.74,365.00 159.66,361.90 166.57,361.30 173.49,358.00 180.41,356.70 187.32,362.60 194.24,355.50 201.16,357.60 208.07,358.80 214.99,359.50 221.91,360.50 228.82,359.20 235.74,356.70 242.66,351.20 249.58,353.30 256.49,357.00 263.41,349.00 270.33,355.10 277.24,349.80 284.16,356.90 291.08,355.60 298.00,352.10 304.91,349.40 311.83,348.50 318.75,354.30" fill="none" stroke="#ff7f0e" stroke-width="1.15" stroke-linejoin="round" stroke-linecap="round" />
<circle cx="55.90" cy="412.50" r="1.75" fill="#ff7f0e"/>
<circle cx="62.82" cy="394.40" r="1.75" fill="#ff7f0e"/>
<circle cx="69.73" cy="372.40" r="1.75" fill="#ff7f0e"/>
<circle cx="76.65" cy="374.40" r="1.75" fill="#ff7f0e"/>
<circle cx="83.57" cy="371.60" r="1.75" fill="#ff7f0e"/>
<circle cx="90.48" cy="364.20" r="1.75" fill="#ff7f0e"/>
<circle cx="97.40" cy="369.30" r="1.75" fill="#ff7f0e"/>
<circle cx="104.32" cy="368.00" r="1.75" fill="#ff7f0e"/>
<circle cx="111.24" cy="372.40" r="1.75" fill="#ff7f0e"/>
<circle cx="118.15" cy="364.70" r="1.75" fill="#ff7f0e"/>
<circle cx="125.07" cy="364.70" r="1.75" fill="#ff7f0e"/>
<circle cx="131.99" cy="362.60" r="1.75" fill="#ff7f0e"/>
<circle cx="138.90" cy="357.60" r="1.75" fill="#ff7f0e"/>
<circle cx="145.82" cy="365.00" r="1.75" fill="#ff7f0e"/>
<circle cx="152.74" cy="365.00" r="1.75" fill="#ff7f0e"/>
<circle cx="159.66" cy="361.90" r="1.75" fill="#ff7f0e"/>
<circle cx="166.57" cy="361.30" r="1.75" fill="#ff7f0e"/>
<circle cx="173.49" cy="358.00" r="1.75" fill="#ff7f0e"/>
<circle cx="180.41" cy="356.70" r="1.75" fill="#ff7f0e"/>
<circle cx="187.32" cy="362.60" r="1.75" fill="#ff7f0e"/>
<circle cx="194.24" cy="355.50" r="1.75" fill="#ff7f0e"/>
<circle cx="201.16" cy="357.60" r="1.75" fill="#ff7f0e"/>
<circle cx="208.07" cy="358.80" r="1.75" fill="#ff7f0e"/>
<circle cx="214.99" cy="359.50" r="1.75" fill="#ff7f0e"/>
<circle cx="221.91" cy="360.50" r="1.75" fill="#ff7f0e"/>
<circle cx="228.82" cy="359.20" r="1.75" fill="#ff7f0e"/>
<circle cx="235.74" cy="356.70" r="1.75" fill="#ff7f0e"/>
<circle cx="242.66" cy="351.20" r="1.75" fill="#ff7f0e"/>
<circle cx="249.58" cy="353.30" r="1.75" fill="#ff7f0e"/>
<circle cx="256.49" cy="357.00" r="1.75" fill="#ff7f0e"/>
<circle cx="263.41" cy="349.00" r="1.75" fill="#ff7f0e"/>
<circle cx="270.33" cy="355.10" r="1.75" fill="#ff7f0e"/>
<circle cx="277.24" cy="349.80" r="1.75" fill="#ff7f0e"/>
<circle cx="284.16" cy="356.90" r="1.75" fill="#ff7f0e"/>
<circle cx="291.08" cy="355.60" r="1.75" fill="#ff7f0e"/>
<circle cx="298.00" cy="352.10" r="1.75" fill="#ff7f0e"/>
<circle cx="304.91" cy="349.40" r="1.75" fill="#ff7f0e"/>
<circle cx="311.83" cy="348.50" r="1.75" fill="#ff7f0e"/>
<circle cx="318.75" cy="354.30" r="1.75" fill="#ff7f0e"/>
<polyline points="55.90,393.40 62.82,379.20 69.73,372.10 76.65,369.80 83.57,365.10 90.48,367.30 97.40,362.60 104.32,367.40 111.24,370.00 118.15,360.30 125.07,360.30 131.99,357.60 138.90,353.30 145.82,367.50 152.74,362.90 159.66,360.50 166.57,357.90 173.49,355.50 180.41,353.30 187.32,355.80 194.24,350.80 201.16,350.80 208.07,350.80 214.99,358.00 221.91,358.00 228.82,353.30 235.74,350.80 242.66,348.50 249.58,353.30 256.49,358.00 263.41,353.30 270.33,355.80 277.24,353.30 284.16,355.60 291.08,353.30 298.00,352.90 304.91,348.50 311.83,350.80 318.75,353.30" fill="none" stroke="#2ca02c" stroke-width="1.15" stroke-linejoin="round" stroke-linecap="round" />
<circle cx="55.90" cy="393.40" r="1.75" fill="#2ca02c"/>
<circle cx="62.82" cy="379.20" r="1.75" fill="#2ca02c"/>
<circle cx="69.73" cy="372.10" r="1.75" fill="#2ca02c"/>
<circle cx="76.65" cy="369.80" r="1.75" fill="#2ca02c"/>
<circle cx="83.57" cy="365.10" r="1.75" fill="#2ca02c"/>
<circle cx="90.48" cy="367.30" r="1.75" fill="#2ca02c"/>
<circle cx="97.40" cy="362.60" r="1.75" fill="#2ca02c"/>
<circle cx="104.32" cy="367.40" r="1.75" fill="#2ca02c"/>
<circle cx="111.24" cy="370.00" r="1.75" fill="#2ca02c"/>
<circle cx="118.15" cy="360.30" r="1.75" fill="#2ca02c"/>
<circle cx="125.07" cy="360.30" r="1.75" fill="#2ca02c"/>
<circle cx="131.99" cy="357.60" r="1.75" fill="#2ca02c"/>
<circle cx="138.90" cy="353.30" r="1.75" fill="#2ca02c"/>
<circle cx="145.82" cy="367.50" r="1.75" fill="#2ca02c"/>
<circle cx="152.74" cy="362.90" r="1.75" fill="#2ca02c"/>
<circle cx="159.66" cy="360.50" r="1.75" fill="#2ca02c"/>
<circle cx="166.57" cy="357.90" r="1.75" fill="#2ca02c"/>
<circle cx="173.49" cy="355.50" r="1.75" fill="#2ca02c"/>
<circle cx="180.41" cy="353.30" r="1.75" fill="#2ca02c"/>
<circle cx="187.32" cy="355.80" r="1.75" fill="#2ca02c"/>
<circle cx="194.24" cy="350.80" r="1.75" fill="#2ca02c"/>
<circle cx="201.16" cy="350.80" r="1.75" fill="#2ca02c"/>
<circle cx="208.07" cy="350.80" r="1.75" fill="#2ca02c"/>
<circle cx="214.99" cy="358.00" r="1.75" fill="#2ca02c"/>
<circle cx="221.91" cy="358.00" r="1.75" fill="#2ca02c"/>
<circle cx="228.82" cy="353.30" r="1.75" fill="#2ca02c"/>
<circle cx="235.74" cy="350.80" r="1.75" fill="#2ca02c"/>
<circle cx="242.66" cy="348.50" r="1.75" fill="#2ca02c"/>
<circle cx="249.58" cy="353.30" r="1.75" fill="#2ca02c"/>
<circle cx="256.49" cy="358.00" r="1.75" fill="#2ca02c"/>
<circle cx="263.41" cy="353.30" r="1.75" fill="#2ca02c"/>
<circle cx="270.33" cy="355.80" r="1.75" fill="#2ca02c"/>
<circle cx="277.24" cy="353.30" r="1.75" fill="#2ca02c"/>
<circle cx="284.16" cy="355.60" r="1.75" fill="#2ca02c"/>
<circle cx="291.08" cy="353.30" r="1.75" fill="#2ca02c"/>
<circle cx="298.00" cy="352.90" r="1.75" fill="#2ca02c"/>
<circle cx="304.91" cy="348.50" r="1.75" fill="#2ca02c"/>
<circle cx="311.83" cy="350.80" r="1.75" fill="#2ca02c"/>
<circle cx="318.75" cy="353.30" r="1.75" fill="#2ca02c"/>
<polyline points="55.90,527.60 62.82,487.90 69.73,420.50 76.65,432.40 83.57,432.40 90.48,400.60 97.40,428.40 104.32,412.60 111.24,424.40 118.15,416.50 125.07,416.70 131.99,412.80 138.90,404.50 145.82,404.50 152.74,412.80 159.66,404.70 166.57,408.70 173.49,400.80 180.41,400.70 187.32,416.70 194.24,400.70 201.16,408.40 208.07,412.80 214.99,400.70 221.91,404.50 228.82,408.70 235.74,404.70 242.66,388.70 249.58,388.70 256.49,392.80 263.41,372.70 270.33,392.80 277.24,376.90 284.16,396.50 291.08,396.50 298.00,384.70 304.91,384.70 311.83,376.80 318.75,392.60" fill="none" stroke="#d62728" stroke-width="1.15" stroke-linejoin="round" stroke-linecap="round" />
<circle cx="55.90" cy="527.60" r="1.75" fill="#d62728"/>
<circle cx="62.82" cy="487.90" r="1.75" fill="#d62728"/>
<circle cx="69.73" cy="420.50" r="1.75" fill="#d62728"/>
<circle cx="76.65" cy="432.40" r="1.75" fill="#d62728"/>
<circle cx="83.57" cy="432.40" r="1.75" fill="#d62728"/>
<circle cx="90.48" cy="400.60" r="1.75" fill="#d62728"/>
<circle cx="97.40" cy="428.40" r="1.75" fill="#d62728"/>
<circle cx="104.32" cy="412.60" r="1.75" fill="#d62728"/>
<circle cx="111.24" cy="424.40" r="1.75" fill="#d62728"/>
<circle cx="118.15" cy="416.50" r="1.75" fill="#d62728"/>
<circle cx="125.07" cy="416.70" r="1.75" fill="#d62728"/>
<circle cx="131.99" cy="412.80" r="1.75" fill="#d62728"/>
<circle cx="138.90" cy="404.50" r="1.75" fill="#d62728"/>
<circle cx="145.82" cy="404.50" r="1.75" fill="#d62728"/>
<circle cx="152.74" cy="412.80" r="1.75" fill="#d62728"/>
<circle cx="159.66" cy="404.70" r="1.75" fill="#d62728"/>
<circle cx="166.57" cy="408.70" r="1.75" fill="#d62728"/>
<circle cx="173.49" cy="400.80" r="1.75" fill="#d62728"/>
<circle cx="180.41" cy="400.70" r="1.75" fill="#d62728"/>
<circle cx="187.32" cy="416.70" r="1.75" fill="#d62728"/>
<circle cx="194.24" cy="400.70" r="1.75" fill="#d62728"/>
<circle cx="201.16" cy="408.40" r="1.75" fill="#d62728"/>
<circle cx="208.07" cy="412.80" r="1.75" fill="#d62728"/>
<circle cx="214.99" cy="400.70" r="1.75" fill="#d62728"/>
<circle cx="221.91" cy="404.50" r="1.75" fill="#d62728"/>
<circle cx="228.82" cy="408.70" r="1.75" fill="#d62728"/>
<circle cx="235.74" cy="404.70" r="1.75" fill="#d62728"/>
<circle cx="242.66" cy="388.70" r="1.75" fill="#d62728"/>
<circle cx="249.58" cy="388.70" r="1.75" fill="#d62728"/>
<circle cx="256.49" cy="392.80" r="1.75" fill="#d62728"/>
<circle cx="263.41" cy="372.70" r="1.75" fill="#d62728"/>
<circle cx="270.33" cy="392.80" r="1.75" fill="#d62728"/>
<circle cx="277.24" cy="376.90" r="1.75" fill="#d62728"/>
<circle cx="284.16" cy="396.50" r="1.75" fill="#d62728"/>
<circle cx="291.08" cy="396.50" r="1.75" fill="#d62728"/>
<circle cx="298.00" cy="384.70" r="1.75" fill="#d62728"/>
<circle cx="304.91" cy="384.70" r="1.75" fill="#d62728"/>
<circle cx="311.83" cy="376.80" r="1.75" fill="#d62728"/>
<circle cx="318.75" cy="392.60" r="1.75" fill="#d62728"/>
<line x1="43.00" y1="308.10" x2="43.00" y2="538.60" stroke="#bbbbbb" stroke-width="2.2" />
<line x1="42.20" y1="537.80" x2="332.30" y2="537.80" stroke="#9a9a9a" stroke-width="2.0" />
<line x1="40.50" y1="516.81" x2="43.00" y2="516.81" stroke="#999" stroke-width="1.0" />
<text x="38.40" y="521.41" font-size="10.81" text-anchor="end" fill="#262626" font-family='"Liberation Sans", sans-serif' textLength="30.06" lengthAdjust="spacingAndGlyphs">0.800</text>
<line x1="40.50" y1="489.88" x2="43.00" y2="489.88" stroke="#999" stroke-width="1.0" />
<text x="38.40" y="494.48" font-size="10.81" text-anchor="end" fill="#262626" font-family='"Liberation Sans", sans-serif' textLength="30.06" lengthAdjust="spacingAndGlyphs">0.825</text>
<line x1="40.50" y1="462.95" x2="43.00" y2="462.95" stroke="#999" stroke-width="1.0" />
<text x="38.40" y="467.55" font-size="10.81" text-anchor="end" fill="#262626" font-family='"Liberation Sans", sans-serif' textLength="30.06" lengthAdjust="spacingAndGlyphs">0.850</text>
<line x1="40.50" y1="436.02" x2="43.00" y2="436.02" stroke="#999" stroke-width="1.0" />
<text x="38.40" y="440.62" font-size="10.81" text-anchor="end" fill="#262626" font-family='"Liberation Sans", sans-serif' textLength="30.06" lengthAdjust="spacingAndGlyphs">0.875</text>
<line x1="40.50" y1="409.09" x2="43.00" y2="409.09" stroke="#999" stroke-width="1.0" />
<text x="38.40" y="413.69" font-size="10.81" text-anchor="end" fill="#262626" font-family='"Liberation Sans", sans-serif' textLength="30.06" lengthAdjust="spacingAndGlyphs">0.900</text>
<line x1="40.50" y1="382.16" x2="43.00" y2="382.16" stroke="#999" stroke-width="1.0" />
<text x="38.40" y="386.76" font-size="10.81" text-anchor="end" fill="#262626" font-family='"Liberation Sans", sans-serif' textLength="30.06" lengthAdjust="spacingAndGlyphs">0.925</text>
<line x1="40.50" y1="355.23" x2="43.00" y2="355.23" stroke="#999" stroke-width="1.0" />
<text x="38.40" y="359.83" font-size="10.81" text-anchor="end" fill="#262626" font-family='"Liberation Sans", sans-serif' textLength="30.06" lengthAdjust="spacingAndGlyphs">0.950</text>
<line x1="40.50" y1="328.30" x2="43.00" y2="328.30" stroke="#999" stroke-width="1.0" />
<text x="38.40" y="332.90" font-size="10.81" text-anchor="end" fill="#262626" font-family='"Liberation Sans", sans-serif' textLength="30.06" lengthAdjust="spacingAndGlyphs">0.975</text>
<line x1="90.48" y1="537.80" x2="90.48" y2="539.80" stroke="#aaa" stroke-width="0.8" />
<text x="90.48" y="550.00" font-size="10.81" text-anchor="middle" fill="#262626" font-family='"Liberation Sans", sans-serif' textLength="13.36" lengthAdjust="spacingAndGlyphs">10</text>
<line x1="159.66" y1="537.80" x2="159.66" y2="539.80" stroke="#aaa" stroke-width="0.8" />
<text x="159.66" y="550.00" font-size="10.81" text-anchor="middle" fill="#262626" font-family='"Liberation Sans", sans-serif' textLength="13.36" lengthAdjust="spacingAndGlyphs">20</text>
<line x1="228.82" y1="537.80" x2="228.82" y2="539.80" stroke="#aaa" stroke-width="0.8" />
<text x="228.82" y="550.00" font-size="10.81" text-anchor="middle" fill="#262626" font-family='"Liberation Sans", sans-serif' textLength="13.36" lengthAdjust="spacingAndGlyphs">30</text>
<line x1="298.00" y1="537.80" x2="298.00" y2="539.80" stroke="#aaa" stroke-width="0.8" />
<text x="298.00" y="550.00" font-size="10.81" text-anchor="middle" fill="#262626" font-family='"Liberation Sans", sans-serif' textLength="13.36" lengthAdjust="spacingAndGlyphs">40</text>
<text x="187.30" y="562.10" font-size="11.38" text-anchor="middle" fill="#262626" font-family='"Liberation Sans", sans-serif' textLength="107.72" lengthAdjust="spacingAndGlyphs">Number of features</text>
<rect x="228.5" y="463.8" width="97.8" height="68.2" rx="2" ry="2" fill="#fff" fill-opacity="0.8" stroke="#d6d6d6" stroke-width="0.9"/>
<line x1="232.30" y1="472.40" x2="255.60" y2="472.40" stroke="#1f77b4" stroke-width="1.5" stroke-opacity="0.65"/>
<circle cx="244.00" cy="472.40" r="1.75" fill="#1f77b4"/>
<text x="264.70" y="476.40" font-size="11.20" text-anchor="start" fill="#262626" font-family='"Liberation Sans", sans-serif' textLength="22.98" lengthAdjust="spacingAndGlyphs">AUC</text>
<line x1="232.30" y1="488.87" x2="255.60" y2="488.87" stroke="#ff7f0e" stroke-width="1.5" stroke-opacity="0.65"/>
<circle cx="244.00" cy="488.87" r="1.75" fill="#ff7f0e"/>
<text x="264.70" y="492.87" font-size="11.20" text-anchor="start" fill="#262626" font-family='"Liberation Sans", sans-serif' textLength="13.17" lengthAdjust="spacingAndGlyphs">F1</text>
<line x1="232.30" y1="505.34" x2="255.60" y2="505.34" stroke="#2ca02c" stroke-width="1.5" stroke-opacity="0.65"/>
<circle cx="244.00" cy="505.34" r="1.75" fill="#2ca02c"/>
<text x="264.70" y="509.34" font-size="11.20" text-anchor="start" fill="#262626" font-family='"Liberation Sans", sans-serif' textLength="56.59" lengthAdjust="spacingAndGlyphs">Sensitivity</text>
<line x1="232.30" y1="521.81" x2="255.60" y2="521.81" stroke="#d62728" stroke-width="1.5" stroke-opacity="0.65"/>
<circle cx="244.00" cy="521.81" r="1.75" fill="#d62728"/>
<text x="264.70" y="525.81" font-size="11.20" text-anchor="start" fill="#262626" font-family='"Liberation Sans", sans-serif' textLength="56.02" lengthAdjust="spacingAndGlyphs">Specificity</text>
</svg>
</body></html>
